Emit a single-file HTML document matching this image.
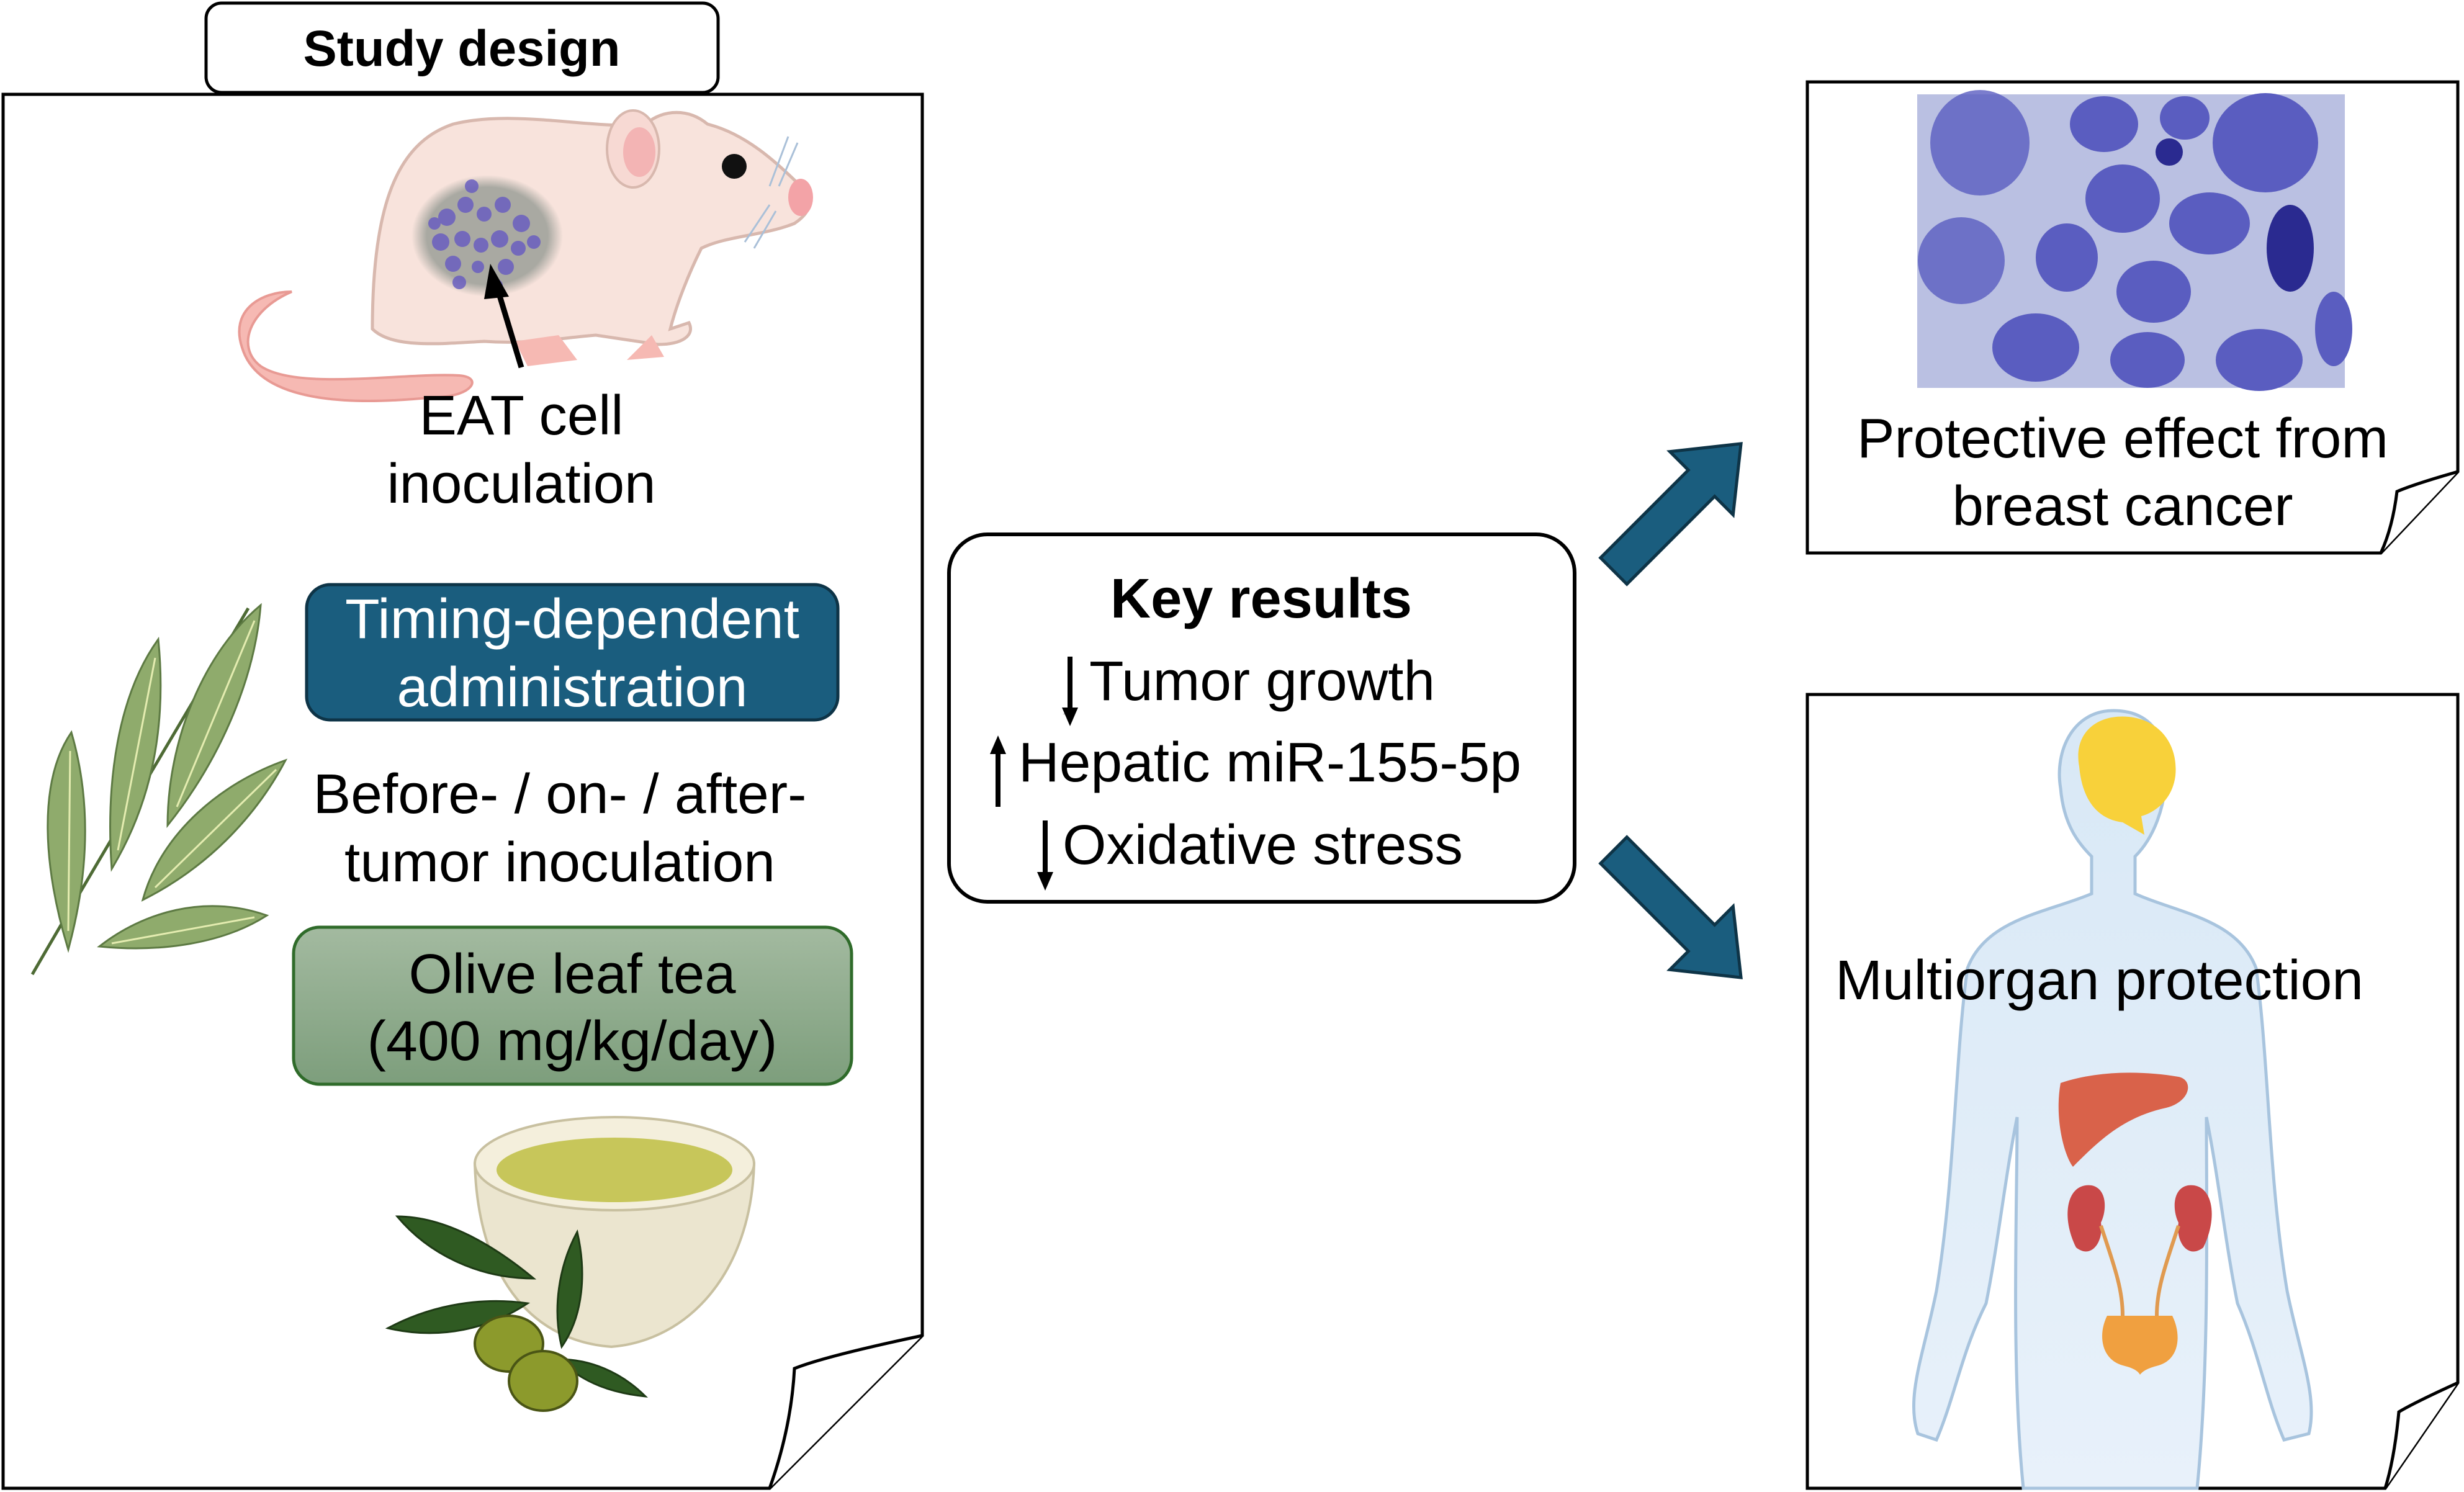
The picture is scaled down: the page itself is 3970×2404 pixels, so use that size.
<!DOCTYPE html>
<html><head><meta charset="utf-8"><style>
html,body{margin:0;padding:0;background:#fff;}
svg{display:block;}
text{font-family:"Liberation Sans",Arial,sans-serif;}
</style></head><body>
<svg width="3970" height="2404" viewBox="0 0 3970 2404" xmlns="http://www.w3.org/2000/svg">
<defs>
<linearGradient id="gOl" x1="0" y1="0" x2="0" y2="1"><stop offset="0" stop-color="#a3baa0"/><stop offset="1" stop-color="#7d9e7c"/></linearGradient>
<radialGradient id="gTum" cx="0.5" cy="0.5" r="0.5"><stop offset="0.8" stop-color="#a9a9a2"/><stop offset="1" stop-color="#a9a9a2" stop-opacity="0"/></radialGradient>
<linearGradient id="gBody" x1="0" y1="0" x2="0" y2="1"><stop offset="0" stop-color="#d8e8f6"/><stop offset="1" stop-color="#e8f1fa"/></linearGradient>
</defs>

<!-- Left page -->
<path d="M5,152 H1486 V2152 L1240,2398 H5 Z" fill="#fff" stroke="#000" stroke-width="5"/>
<path d="M1486,2152 Q1330,2185 1280,2205 Q1275,2300 1240,2398" fill="#fff" stroke="#000" stroke-width="5"/>
<!-- Study design -->
<rect x="332" y="5" width="825" height="144" rx="25" fill="#fff" stroke="#000" stroke-width="5"/>
<text x="744" y="106" font-size="82" font-weight="bold" text-anchor="middle" textLength="511" lengthAdjust="spacingAndGlyphs">Study design</text>

<!-- Mouse -->
<path d="M470,470 C400,500 380,560 420,590 C480,630 650,600 740,605 C780,608 760,640 700,640 C600,650 420,660 390,560 C370,500 420,470 470,470 Z" fill="#f6b9b3" stroke="#e89a94" stroke-width="4"/>
<path d="M600,530 C600,330 640,230 730,200 C830,175 960,210 1040,200 C1070,175 1110,175 1140,200 C1200,215 1250,260 1290,300 C1310,320 1310,340 1280,360 C1230,380 1170,380 1130,400 C1110,440 1090,490 1080,530 L1110,520 C1120,540 1100,555 1060,555 L960,540 C900,545 850,555 780,550 C700,555 630,560 600,530 Z" fill="#f8e3dc" stroke="#d8b8ae" stroke-width="5"/>
<ellipse cx="1020" cy="240" rx="42" ry="62" fill="#f7d9d3" stroke="#d8b8ae" stroke-width="4"/>
<ellipse cx="1030" cy="245" rx="26" ry="40" fill="#f3b4b4"/>
<circle cx="1183" cy="268" r="20" fill="#111"/>
<ellipse cx="1290" cy="318" rx="20" ry="30" fill="#f3a3a7"/>
<path d="M1240,330 L1200,390 M1250,340 L1215,400 M1270,220 L1240,300 M1285,230 L1255,300" stroke="#aac0d8" stroke-width="3"/>
<path d="M900,540 L930,580 L850,590 L830,550 Z" fill="#f6b9b3"/>
<path d="M1050,540 L1070,575 L1010,580 Z" fill="#f6b9b3"/>
<ellipse cx="785" cy="380" rx="122" ry="98" fill="url(#gTum)"/>
<g fill="#6a5fc0" opacity="0.85">
<circle cx="720" cy="350" r="14"/><circle cx="750" cy="330" r="13"/><circle cx="780" cy="345" r="12"/><circle cx="810" cy="330" r="13"/><circle cx="840" cy="360" r="14"/><circle cx="710" cy="390" r="14"/><circle cx="745" cy="385" r="13"/><circle cx="775" cy="395" r="12"/><circle cx="805" cy="385" r="14"/><circle cx="835" cy="400" r="12"/><circle cx="730" cy="425" r="13"/><circle cx="770" cy="430" r="10"/><circle cx="815" cy="430" r="13"/><circle cx="860" cy="390" r="11"/><circle cx="700" cy="360" r="10"/><circle cx="760" cy="300" r="11"/><circle cx="740" cy="455" r="11"/><circle cx="800" cy="460" r="10"/>
</g>
<line x1="840" y1="592" x2="800" y2="460" stroke="#000" stroke-width="9"/>
<polygon points="790,425 820,478 780,482" fill="#000"/>
<text x="840" y="700" font-size="90" text-anchor="middle" textLength="329" lengthAdjust="spacingAndGlyphs">EAT cell</text>
<text x="840" y="810" font-size="90" text-anchor="middle" textLength="433" lengthAdjust="spacingAndGlyphs">inoculation</text>

<!-- Leaves -->
<g fill="#8fab6c" stroke="#5d7a43" stroke-width="3">
<path d="M52,1570 C150,1400 300,1150 400,980"  fill="none" stroke="#4e6b35" stroke-width="5"/>
<path d="M115,1180 C60,1260 70,1400 110,1530 C140,1420 150,1300 115,1180 Z"/>
<path d="M255,1030 C190,1120 170,1260 180,1400 C240,1300 270,1180 255,1030 Z"/>
<path d="M420,975 C330,1050 270,1190 270,1330 C350,1230 410,1100 420,975 Z"/>
<path d="M460,1225 C360,1260 260,1340 230,1450 C330,1400 410,1320 460,1225 Z"/>
<path d="M430,1475 C330,1440 230,1470 160,1525 C260,1535 360,1520 430,1475 Z"/>
</g>
<g stroke="#e4ecb0" stroke-width="3" fill="none">
<path d="M113,1210 L110,1500"/><path d="M250,1060 L190,1370"/><path d="M410,1000 L285,1300"/><path d="M445,1240 L250,1430"/><path d="M410,1478 L180,1520"/>
</g>

<!-- Timing box -->
<rect x="494" y="942" width="856" height="218" rx="38" fill="#1a5d7e" stroke="#0e3447" stroke-width="5"/>
<text x="922" y="1028" font-size="90" fill="#fff" text-anchor="middle" textLength="732" lengthAdjust="spacingAndGlyphs">Timing-dependent</text>
<text x="922" y="1138" font-size="90" fill="#fff" text-anchor="middle" textLength="565" lengthAdjust="spacingAndGlyphs">administration</text>
<text x="902" y="1310" font-size="90" text-anchor="middle" textLength="795" lengthAdjust="spacingAndGlyphs">Before- / on- / after-</text>
<text x="902" y="1420" font-size="90" text-anchor="middle" textLength="694" lengthAdjust="spacingAndGlyphs">tumor inoculation</text>
<!-- Olive box -->
<rect x="473" y="1494" width="899" height="253" rx="42" fill="url(#gOl)" stroke="#2f6b2a" stroke-width="5"/>
<text x="922" y="1600" font-size="90" text-anchor="middle" textLength="527" lengthAdjust="spacingAndGlyphs">Olive leaf tea</text>
<text x="922" y="1708" font-size="90" text-anchor="middle" textLength="661" lengthAdjust="spacingAndGlyphs">(400 mg/kg/day)</text>

<!-- Tea bowl -->
<path d="M765,1875 C770,2050 850,2160 985,2170 C1110,2160 1210,2050 1215,1875 Z" fill="#ebe5cf" stroke="#c8c0a0" stroke-width="4"/>
<ellipse cx="990" cy="1875" rx="225" ry="75" fill="#f4efdc" stroke="#c8c0a0" stroke-width="4"/>
<ellipse cx="990" cy="1885" rx="190" ry="52" fill="#c7c65a"/>
<g fill="#2f5a22" stroke="#1e3a15" stroke-width="3">
<path d="M640,1960 C720,1960 800,2010 860,2060 C770,2060 690,2020 640,1960 Z"/>
<path d="M625,2140 C700,2100 780,2090 850,2100 C790,2140 710,2160 625,2140 Z"/>
<path d="M930,1985 C900,2040 890,2110 905,2170 C940,2120 945,2050 930,1985 Z"/>
<path d="M900,2190 C940,2230 990,2245 1040,2250 C1000,2210 950,2190 900,2190 Z"/>
</g>
<ellipse cx="820" cy="2165" rx="55" ry="45" fill="#8c9a2c" stroke="#4a5515" stroke-width="4"/>
<ellipse cx="875" cy="2225" rx="55" ry="48" fill="#8c9a2c" stroke="#4a5515" stroke-width="4"/>

<!-- Key results -->
<rect x="1529" y="861" width="1008" height="592" rx="62" fill="#fff" stroke="#000" stroke-width="6"/>
<text x="2032" y="995" font-size="90" font-weight="bold" text-anchor="middle" textLength="486" lengthAdjust="spacingAndGlyphs">Key results</text>
<text x="1755" y="1128" font-size="90" textLength="557" lengthAdjust="spacingAndGlyphs">Tumor growth</text>
<text x="1641" y="1259" font-size="90" textLength="810" lengthAdjust="spacingAndGlyphs">Hepatic miR-155-5p</text>
<text x="1712" y="1392" font-size="90" textLength="645" lengthAdjust="spacingAndGlyphs">Oxidative stress</text>
<g fill="#000">
<rect x="1720" y="1058" width="8" height="95"/><polygon points="1712,1150 1736,1150 1724,1150 1724,1152" /><polygon points="1711,1140 1737,1140 1724,1170"/>
<rect x="1604" y="1210" width="8" height="90"/><polygon points="1595,1215 1621,1215 1608,1185"/>
<rect x="1680" y="1322" width="8" height="95"/><polygon points="1671,1405 1697,1405 1684,1435"/>
</g>

<!-- Arrows -->
<g transform="translate(2600,920) rotate(-45)">
<polygon points="0,-30 200,-30 200,-72 290,0 200,72 200,30 0,30" fill="#1a5d7e" stroke="#0e3447" stroke-width="5"/>
</g>
<g transform="translate(2600,1370) rotate(45)">
<polygon points="0,-30 200,-30 200,-72 290,0 200,72 200,30 0,30" fill="#1a5d7e" stroke="#0e3447" stroke-width="5"/>
</g>

<!-- Top right page -->
<path d="M2912,132 H3960 V760 L3836,891 H2912 Z" fill="#fff" stroke="#000" stroke-width="5"/>
<path d="M3960,760 Q3890,780 3862,792 Q3855,850 3836,891" fill="#fff" stroke="#000" stroke-width="5"/>
<rect x="3089" y="152" width="689" height="473" fill="#bac0e2"/>
<g fill="#5a5dc0">
<ellipse cx="3190" cy="230" rx="80" ry="85" opacity="0.8"/>
<ellipse cx="3390" cy="200" rx="55" ry="45"/>
<ellipse cx="3520" cy="190" rx="40" ry="35"/>
<circle cx="3495" cy="245" r="22" fill="#2a2a90"/>
<ellipse cx="3650" cy="230" rx="85" ry="80"/>
<ellipse cx="3420" cy="320" rx="60" ry="55"/>
<ellipse cx="3560" cy="360" rx="65" ry="50"/>
<ellipse cx="3160" cy="420" rx="70" ry="70" opacity="0.8"/>
<ellipse cx="3330" cy="415" rx="50" ry="55"/>
<ellipse cx="3470" cy="470" rx="60" ry="50"/>
<ellipse cx="3690" cy="400" rx="38" ry="70" fill="#2a2a90"/>
<ellipse cx="3280" cy="560" rx="70" ry="55"/>
<ellipse cx="3460" cy="580" rx="60" ry="45"/>
<ellipse cx="3640" cy="580" rx="70" ry="50"/>
<ellipse cx="3760" cy="530" rx="30" ry="60"/>
</g>
<text x="3420" y="737" font-size="90" text-anchor="middle" textLength="856" lengthAdjust="spacingAndGlyphs">Protective effect from</text>
<text x="3420" y="846" font-size="90" text-anchor="middle" textLength="549" lengthAdjust="spacingAndGlyphs">breast cancer</text>

<!-- Bottom right page -->
<path d="M2912,1119 H3960 V2228 L3843,2398 H2912 Z" fill="#fff" stroke="#000" stroke-width="5"/>
<!-- body -->
<path d="M3405,1145 C3340,1145 3310,1210 3320,1270 C3325,1330 3350,1360 3370,1380 L3370,1440 C3300,1470 3200,1480 3170,1560 C3150,1700 3150,1900 3120,2080 C3100,2180 3070,2250 3090,2310 L3120,2320 C3150,2250 3160,2180 3200,2100 C3220,2000 3230,1900 3250,1800 C3250,1950 3240,2200 3260,2398 L3540,2398 C3560,2200 3555,1950 3555,1800 C3575,1900 3585,2000 3605,2100 C3640,2180 3650,2250 3680,2320 L3720,2310 C3735,2250 3705,2180 3685,2080 C3655,1900 3655,1700 3635,1560 C3605,1480 3505,1470 3440,1440 L3440,1380 C3470,1350 3490,1300 3490,1240 C3490,1180 3460,1145 3405,1145 Z" fill="url(#gBody)" stroke="#a8c4de" stroke-width="5"/>
<path d="M3350,1235 C3340,1180 3380,1150 3430,1155 C3480,1160 3510,1200 3505,1250 C3500,1290 3470,1310 3450,1315 L3455,1345 L3420,1325 C3380,1320 3355,1290 3350,1235 Z" fill="#f8d13a"/>
<path d="M3320,1745 C3310,1800 3325,1860 3340,1880 C3380,1840 3420,1800 3490,1785 C3530,1775 3535,1740 3510,1735 C3450,1725 3380,1725 3320,1745 Z" fill="#d9624a"/>
<path d="M3370,1910 C3330,1905 3320,1960 3345,2010 C3370,2030 3390,2000 3385,1970 C3395,1950 3395,1915 3370,1910 Z" fill="#c94848"/>
<path d="M3525,1910 C3565,1905 3575,1960 3550,2010 C3525,2030 3505,2000 3510,1970 C3500,1950 3500,1915 3525,1910 Z" fill="#c94848"/>
<path d="M3385,1975 C3410,2050 3420,2080 3420,2120 M3510,1975 C3485,2050 3475,2080 3475,2120" stroke="#e09a50" stroke-width="6" fill="none"/>
<path d="M3395,2120 C3380,2150 3385,2190 3420,2200 C3440,2205 3445,2210 3448,2215 C3452,2210 3458,2205 3478,2200 C3512,2190 3515,2150 3500,2120 Z" fill="#f0a040"/>
<text x="2957" y="1610" font-size="90" textLength="851" lengthAdjust="spacingAndGlyphs">Multiorgan protection</text>
<path d="M3960,2228 Q3890,2260 3865,2275 Q3858,2350 3843,2398" fill="#fff" stroke="#000" stroke-width="5"/>
</svg>
</body></html>
